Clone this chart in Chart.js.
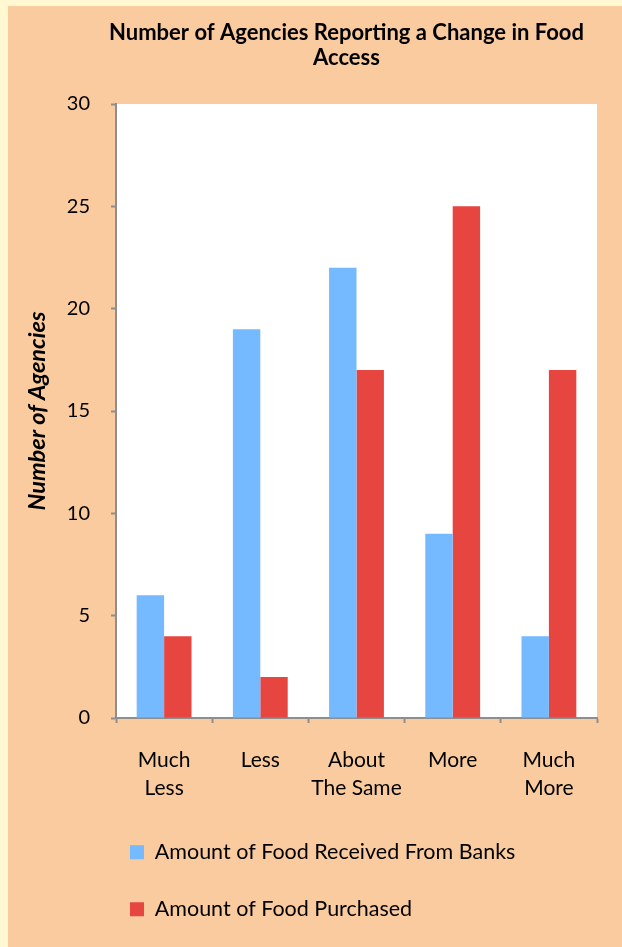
<!DOCTYPE html>
<html>
<head>
<meta charset="utf-8">
<script src="https://cdn.jsdelivr.net/npm/chart.js@4.4.1/dist/chart.umd.min.js"></script>
<style>
  html, body { margin: 0; padding: 0; background: #FFF8D1; }
  #wrap { position: absolute; left: 8px; top: 6px; width: 614px; height: 941px; background: #F9CB9F; }
  canvas { display: block; }
</style>
</head>
<body>
<div id="wrap"><canvas id="chart" width="614" height="941"></canvas></div>
<script>
// Chart data
const categories = [['Much', 'Less'], 'Less', ['About', 'The Same'], 'More', ['Much', 'More']];
const seriesNames = ['Amount of Food Received From Banks', 'Amount of Food Purchased'];
const receivedFromBanks = [6, 19, 22, 9, 4];
const purchased = [4, 2, 17, 25, 17];
const yTicks = [0, 5, 10, 15, 20, 25, 30];

const AXIS_GREY = '#8E8E8E';
const FONT = 'Lato';

// white plot area on the peach background
const plotBackground = {
  id: 'plotBackground',
  beforeDraw(chart) {
    const { ctx, chartArea: a } = chart;
    ctx.save();
    ctx.fillStyle = '#FFFFFF';
    ctx.fillRect(a.left, a.top, a.right - a.left, a.bottom - a.top);
    ctx.restore();
  }
};

// Excel-ish placement of title and legend
const shiftBlocks = {
  id: 'shiftBlocks',
  afterLayout(chart) {
    const t = chart.titleBlock;
    t.left += 44; t.right += 44;
    const lg = chart.legend;
    const dx = 122 - (lg.left + lg.options.labels.padding);
    lg.left += dx; lg.right += dx;
  }
};

new Chart(document.getElementById('chart'), {
  type: 'bar',
  data: {
    labels: categories,
    datasets: [
      { label: seriesNames[0], data: receivedFromBanks, backgroundColor: '#75B9FE' },
      { label: seriesNames[1], data: purchased, backgroundColor: '#E7453F' }
    ]
  },
  options: {
    responsive: false,
    animation: false,
    categoryPercentage: 0.57,
    barPercentage: 1,
    layout: { padding: { left: 0, right: 25, top: 0, bottom: 17 } },
    scales: {
      x: {
        grid: { drawOnChartArea: false, drawTicks: true, tickLength: 5, tickColor: AXIS_GREY, tickWidth: 2 },
        border: { color: AXIS_GREY, width: 2 },
        ticks: { color: '#000', padding: 23, maxRotation: 0, autoSkip: false,
                 font: { family: FONT, size: 21, lineHeight: '28px' } },
        afterFit(scale) { scale.height = 88; }
      },
      y: {
        min: 0,
        max: 30,
        afterBuildTicks(scale) { scale.ticks = yTicks.map(v => ({ value: v })); },
        grid: { drawOnChartArea: false, drawTicks: true, tickLength: 5, tickColor: AXIS_GREY, tickWidth: 2 },
        border: { color: AXIS_GREY, width: 2 },
        ticks: { color: '#000', padding: 21, font: { family: FONT, size: 20 } },
        title: {
          display: true,
          text: 'Number of Agencies',
          color: '#000',
          padding: { top: 16, bottom: 0 },
          font: { family: FONT, size: 23.5, weight: 'bold', style: 'italic', lineHeight: '26px' }
        },
        afterFit(scale) { scale.width = 108; }
      }
    },
    plugins: {
      title: {
        display: true,
        text: ['Number of Agencies Reporting a Change in Food', 'Access'],
        color: '#000',
        padding: { top: 14, bottom: 34 },
        font: { family: FONT, size: 22, weight: 'bold', lineHeight: '25px' }
      },
      legend: {
        position: 'bottom',
        align: 'start',
        fullSize: false,
        labels: {
          color: '#000',
          boxWidth: 14,
          boxHeight: 14,
          padding: 35.5,
          font: { family: FONT, size: 21.5 }
        }
      },
      tooltip: { enabled: false }
    }
  },
  plugins: [plotBackground, shiftBlocks]
});
</script>
</body>
</html>
